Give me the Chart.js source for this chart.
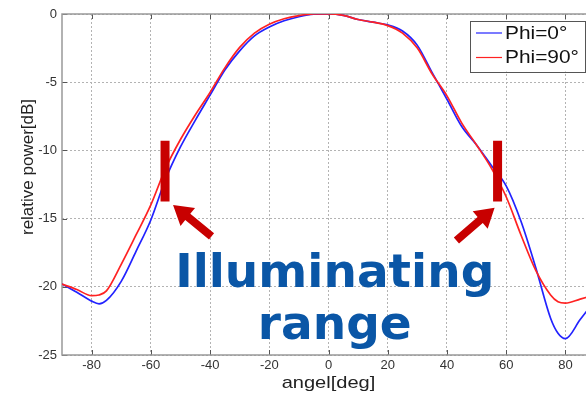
<!DOCTYPE html>
<html>
<head>
<meta charset="utf-8">
<script src="https://cdn.jsdelivr.net/npm/chart.js@4/dist/chart.umd.min.js"></script>
<style>
  html, body { margin: 0; padding: 0; background: #fff; overflow: hidden; }
  #wrap { position: relative; width: 620px; height: 393px; }
</style>
</head>
<body>
<div id="wrap"><canvas id="beamChart" width="620" height="393"></canvas></div>
<script>
// measured beam pattern, relative power in dB against angle
const angles = [-90, -85, -80, -77.5, -75, -70, -65, -60, -55, -50, -45, -40, -35, -30, -25, -20, -15, -10, -5, 0,
                5, 10, 15, 20, 25, 30, 35, 40, 45, 50, 55, 60, 65, 70, 75, 77.5, 80, 85, 90];
const phi0 = [-19.8, -20.4, -21.05, -21.25, -21.0, -19.6, -17.4, -15.1, -12.1, -9.75, -7.8, -5.95, -4.1, -2.7, -1.6, -0.95, -0.5, -0.2, -0.02, 0,
              -0.1, -0.4, -0.6, -0.8, -1.25, -2.3, -4.3, -6.25, -8.25, -9.6, -11.1, -12.6, -15.2, -18.6, -22.3, -23.4, -23.8, -22.4, -21.0];
const phi90 = [-19.8, -20.2, -20.65, -20.6, -20.3, -18.35, -16.2, -14.0, -11.3, -9.2, -7.4, -5.75, -3.95, -2.45, -1.4, -0.75, -0.35, -0.12, 0, 0,
               -0.1, -0.4, -0.6, -0.85, -1.4, -2.5, -4.4, -6.0, -8.0, -9.6, -11.3, -13.4, -16.2, -18.8, -20.6, -21.1, -21.2, -20.9, -20.6];
const seriesLabels = ['Phi=0°', 'Phi=90°'];
const xTicks = [-80, -60, -40, -20, 0, 20, 40, 60, 80];
const yTicks = [0, -5, -10, -15, -20, -25];

// edges of the illuminating range and the dB span of their marker bars
const rangeEdges = [-55.2, 57.1];
const markerSpan = [-9.3, -13.75];
// arrows pointing at the markers: [tail, tip] as [deg, dB]
const arrows = [
  [[-39.5, -16.3], [-52.5, -14.0]],
  [[43.2, -16.6], [56.1, -14.2]]
];
const rangeText = ['Illuminating', 'range'];

const FONT = '"Liberation Sans", Arial, sans-serif';
const MARK_RED = '#c80000';

const toXY = (vals) => angles.map((a, i) => ({ x: a, y: vals[i] }));

// text drawn a little wider than the font, like the rest of the figure
function wideText(ctx, text, x, y, stretch) {
  ctx.save();
  ctx.translate(x, y);
  ctx.scale(stretch, 1);
  ctx.fillText(text, 0, 0);
  ctx.restore();
}

// matlab style frame, inner ticks, arrows, label and legend box
const decorations = {
  id: 'decorations',
  beforeDatasetsDraw(chart) {
    const { ctx, chartArea: a, scales: { x, y } } = chart;
    ctx.save();
    ctx.strokeStyle = '#555';
    ctx.lineWidth = 1;
    ctx.beginPath();
    xTicks.forEach(v => {
      const px = Math.round(x.getPixelForValue(v)) + 0.5;
      ctx.moveTo(px, a.top); ctx.lineTo(px, a.top + 5);
      ctx.moveTo(px, a.bottom); ctx.lineTo(px, a.bottom - 5);
    });
    yTicks.forEach(v => {
      const py = Math.round(y.getPixelForValue(v)) + 0.5;
      ctx.moveTo(a.left, py); ctx.lineTo(a.left + 5, py);
    });
    ctx.stroke();
    ctx.strokeStyle = '#999';
    ctx.lineWidth = 1.5;
    ctx.strokeRect(a.left, a.top, a.right - a.left, a.bottom - a.top);

    // big label
    ctx.fillStyle = '#0a56a6';
    ctx.font = 'bold 47px "DejaVu Sans", sans-serif';
    ctx.textAlign = 'center';
    ctx.textBaseline = 'alphabetic';
    const cx = x.getPixelForValue(2.1);
    ctx.fillText(rangeText[0], cx, y.getPixelForValue(-20));
    ctx.fillText(rangeText[1], cx, y.getPixelForValue(-23.8));
    ctx.restore();
  },
  afterDatasetsDraw(chart) {
    const { ctx, scales: { x, y } } = chart;
    ctx.save();
    ctx.fillStyle = MARK_RED;
    arrows.forEach(([tail, tip]) => {
      const tx = x.getPixelForValue(tail[0]), ty = y.getPixelForValue(tail[1]);
      const hx = x.getPixelForValue(tip[0]), hy = y.getPixelForValue(tip[1]);
      const len = Math.hypot(hx - tx, hy - ty);
      const ux = (hx - tx) / len, uy = (hy - ty) / len;
      const nx = -uy, ny = ux;
      const shaft = 4, head = 11.5, headLen = 19;
      const bx = hx - ux * headLen, by = hy - uy * headLen;
      ctx.beginPath();
      ctx.moveTo(tx + nx * shaft, ty + ny * shaft);
      ctx.lineTo(bx + nx * shaft, by + ny * shaft);
      ctx.lineTo(bx + nx * head, by + ny * head);
      ctx.lineTo(hx, hy);
      ctx.lineTo(bx - nx * head, by - ny * head);
      ctx.lineTo(bx - nx * shaft, by - ny * shaft);
      ctx.lineTo(tx - nx * shaft, ty - ny * shaft);
      ctx.closePath();
      ctx.fill();
    });
    ctx.restore();
  },
  afterDraw(chart) {
    const { ctx, chartArea: a } = chart;
    ctx.save();
    // axis titles
    ctx.fillStyle = '#222';
    ctx.font = '17px ' + FONT;
    ctx.textAlign = 'center';
    ctx.textBaseline = 'middle';
    wideText(ctx, 'angel[deg]', (a.left + a.right) / 2, 383, 1.18);
    ctx.translate(28, 167);
    ctx.rotate(-Math.PI / 2);
    ctx.fillText('relative power[dB]', 0, 0);
    ctx.restore();

    // legend box
    ctx.save();
    const bw = 115, bh = 51;
    const bx = a.right - 10 - bw, by = a.top + 6.5;
    ctx.fillStyle = '#fff';
    ctx.fillRect(bx, by, bw, bh);
    ctx.strokeStyle = '#555';
    ctx.lineWidth = 1;
    ctx.strokeRect(Math.round(bx) + 0.5, Math.round(by) + 0.5, bw, bh);
    ctx.font = '18px ' + FONT;
    ctx.textBaseline = 'middle';
    ctx.textAlign = 'left';
    [0, 1].forEach(i => {
      const ds = chart.data.datasets[i];
      const ly = by + 12.5 + i * 24.5;
      ctx.strokeStyle = ds.borderColor;
      ctx.lineWidth = 1.2;
      ctx.beginPath();
      ctx.moveTo(bx + 6, ly); ctx.lineTo(bx + 32, ly);
      ctx.stroke();
      ctx.fillStyle = '#111';
      wideText(ctx, ds.label, bx + 35, ly + 1, 1.16);
    });
    ctx.restore();
  }
};

const markerSet = (deg) => ({
  data: [{ x: deg, y: markerSpan[0] }, { x: deg, y: markerSpan[1] }],
  borderColor: MARK_RED,
  borderWidth: 9,
  borderCapStyle: 'butt',
  pointRadius: 0,
  order: 0
});

new Chart(document.getElementById('beamChart'), {
  type: 'line',
  data: {
    datasets: [
      {
        label: seriesLabels[0],
        data: toXY(phi0),
        borderColor: '#2222ff',
        borderWidth: 1.7,
        pointRadius: 0,
        cubicInterpolationMode: 'monotone',
        order: 2
      },
      {
        label: seriesLabels[1],
        data: toXY(phi90),
        borderColor: '#ff2222',
        borderWidth: 1.7,
        pointRadius: 0,
        cubicInterpolationMode: 'monotone',
        order: 1
      },
      markerSet(rangeEdges[0]),
      markerSet(rangeEdges[1])
    ]
  },
  options: {
    responsive: false,
    animation: false,
    devicePixelRatio: 1,
    layout: { padding: { top: 14, right: 25, left: 0, bottom: 0 } },
    plugins: { legend: { display: false }, tooltip: { enabled: false } },
    scales: {
      x: {
        type: 'linear',
        min: -90,
        max: 90,
        afterBuildTicks: s => { s.ticks = xTicks.map(v => ({ value: v })); },
        afterFit: s => { s.height = 38; },
        ticks: { color: '#333', font: { family: FONT, size: 13 }, padding: 3, maxRotation: 0, autoSkip: false },
        grid: { color: '#b3b3b3', drawTicks: false, lineWidth: 1 },
        border: { display: false, dash: [2, 2] }
      },
      y: {
        type: 'linear',
        min: -25,
        max: 0,
        afterBuildTicks: s => { s.ticks = yTicks.map(v => ({ value: v })); },
        afterFit: s => { s.width = 62; },
        ticks: { color: '#333', font: { family: FONT, size: 13 }, padding: 5 },
        grid: { color: '#b3b3b3', drawTicks: false, lineWidth: 1 },
        border: { display: false, dash: [2, 2] }
      }
    }
  },
  plugins: [decorations]
});
</script>
</body>
</html>
